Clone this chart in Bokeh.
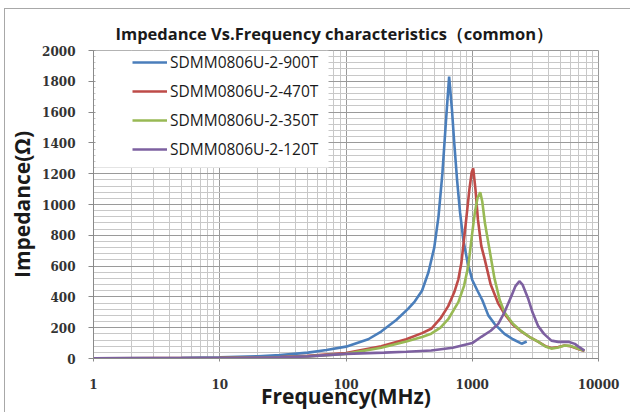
from bokeh.plotting import figure
from bokeh.models import (Range1d, FixedTicker, SingleIntervalTicker, Legend, LegendItem,
                          BoxAnnotation, NumeralTickFormatter)
from bokeh.embed import file_html
from bokeh.resources import INLINE

# ---- data ----
series_names = ["SDMM0806U-2-900T", "SDMM0806U-2-470T", "SDMM0806U-2-350T", "SDMM0806U-2-120T"]
series_colors = ["#4A7EBB", "#BE4B48", "#98B954", "#7D60A0"]

freq_900T = [1, 5, 10, 20, 30, 50, 70, 100, 150, 190, 250, 310, 350, 400, 450, 500, 540, 580,
             620, 656, 690, 720, 760, 800, 850, 920, 1000, 1100, 1200, 1340, 1500, 1800, 2100, 2460, 2700]
imp_900T = [2, 4, 8, 15, 22, 38, 55, 77, 125, 175, 250, 322, 370, 440, 560, 720, 920, 1200,
            1550, 1830, 1620, 1400, 1150, 950, 770, 620, 510, 440, 380, 280, 225, 160, 125, 96, 110]

freq_470T = [1, 10, 30, 50, 100, 190, 300, 400, 473, 560, 645, 720, 776, 820, 860, 900, 950, 990,
             1018, 1060, 1110, 1180, 1250, 1400, 1600, 1800, 2100, 2460, 2900, 3318, 3800, 4236,
             4800, 5370, 6000, 7000, 7740]
imp_470T = [1, 4, 10, 17, 35, 80, 125, 165, 193, 260, 340, 430, 514, 620, 772, 920, 1100, 1210,
            1235, 1100, 900, 730, 650, 480, 360, 290, 220, 174, 135, 109, 80, 68,
            75, 84, 80, 60, 48]

freq_350T = [1, 10, 30, 50, 100, 190, 300, 400, 473, 560, 645, 776, 860, 930, 1000, 1050, 1100,
             1157, 1200, 1260, 1370, 1500, 1650, 1800, 2100, 2460, 2900, 3318, 3800, 4236, 4800,
             5370, 6000, 7000, 7740]
imp_350T = [1, 3, 8, 14, 30, 70, 110, 140, 161, 200, 255, 366, 470, 600, 816, 950, 1040,
            1080, 1020, 880, 707, 520, 380, 300, 225, 176, 135, 109, 78, 64, 72,
            84, 82, 62, 50]

freq_120T = [1, 10, 30, 50, 100, 200, 300, 473, 700, 1000, 1180, 1400, 1607, 1800, 2040, 2200,
             2361, 2500, 2780, 3000, 3318, 3700, 4236, 4800, 5780, 6500, 7000, 7740]
imp_120T = [1, 3, 8, 14, 30, 38, 44, 52, 70, 100, 141, 180, 225, 300, 405, 470,
            502, 480, 386, 300, 212, 160, 116, 108, 109, 95, 75, 51]

x_ticks = [1, 10, 100, 1000, 10000]
y_tick_step = 200

title_text = "Impedance Vs.Frequency characteristics\uff08common\uff09"
x_label = "Frequency(MHz)"
y_label = "Impedance(\u03a9)"

W, H = 630, 412

# ---- figure ----
p = figure(width=W, height=H, x_axis_type="log",
           x_range=Range1d(1, 10000), y_range=Range1d(0, 2000),
           output_backend="svg", toolbar_location=None,
           min_border_left=93, min_border_right=32, min_border_top=50, min_border_bottom=52,
           title=title_text)

# thin grey chart-area frame along the top and left edges (as in the reference)
p.border_fill_alpha = 0.0
p.styles = {
    "background": ("linear-gradient(#a8a8a8,#a8a8a8) 4px 8px / 626px 1px no-repeat, "
                   "linear-gradient(#a8a8a8,#a8a8a8) 4px 8px / 1px 404px no-repeat, white"),
}

p.title.text_font = "Open Sans"
p.title.text_font_size = "16.5px"
p.title.text_font_style = "bold"
p.title.text_color = "#1a1a1a"
p.title.align = "left"
p.title.offset = 22
p.title.standoff = 12

p.background_fill_color = "white"
p.outline_line_color = "#9a9a9a"

minor_x = [m * t for t in x_ticks[:-1] for m in range(2, 10)]
p.xaxis.ticker = FixedTicker(ticks=x_ticks, minor_ticks=minor_x)
p.yaxis.ticker = SingleIntervalTicker(interval=y_tick_step, num_minor_ticks=5)
p.xaxis.formatter = NumeralTickFormatter(format="0")
p.yaxis.formatter = NumeralTickFormatter(format="0")

for ax in (p.xaxis, p.yaxis):
    ax.major_label_text_font = "DejaVu Serif"
    ax.major_label_text_font_style = "bold"
    ax.major_label_text_font_size = "12px"
    ax.major_label_text_color = "#333333"
    ax.axis_line_color = "#8a8a8a"
    ax.major_tick_line_color = "#8a8a8a"
    ax.minor_tick_line_color = None
    ax.major_tick_in = 0
    ax.axis_label_text_font = "Open Sans"
    ax.axis_label_text_font_style = "bold"
    ax.axis_label_text_font_size = "21px"
    ax.axis_label_text_color = "#1a1a1a"

p.xaxis.major_tick_out = 3
p.xaxis.major_label_standoff = 16
p.xaxis.axis_label = x_label
p.xaxis.axis_label_standoff = -10

p.yaxis.major_tick_out = 5
p.yaxis.major_label_standoff = 13
p.yaxis.axis_label = y_label
p.yaxis.axis_label_standoff = 3

p.xgrid.grid_line_color = "#9a9a9a"
p.ygrid.grid_line_color = "#9a9a9a"
p.xgrid.minor_grid_line_color = "#c8c8c8"
p.ygrid.minor_grid_line_color = "#c8c8c8"

# white legend background box
box = BoxAnnotation(left=95, right=328, top=50, bottom=167,
                    left_units="canvas", right_units="canvas",
                    top_units="canvas", bottom_units="canvas",
                    fill_color="white", fill_alpha=1.0, line_color=None)
p.add_layout(box)

data = [(freq_900T, imp_900T), (freq_470T, imp_470T), (freq_350T, imp_350T), (freq_120T, imp_120T)]
items = []
for (f, z), name, col in zip(data, series_names, series_colors):
    r = p.line(f, z, line_color=col, line_width=2.6)
    items.append(LegendItem(label=name, renderers=[r]))

legend = Legend(items=items, location=(39, 198), padding=0, spacing=7,
                glyph_width=35, glyph_height=20, label_height=20, label_standoff=3,
                label_text_font="Open Sans", label_text_font_size="15.5px",
                label_text_color="#1a1a1a", border_line_color=None,
                background_fill_alpha=0.0, margin=0)
p.add_layout(legend, "center")

open("out.html", "w").write(file_html(p, INLINE))
